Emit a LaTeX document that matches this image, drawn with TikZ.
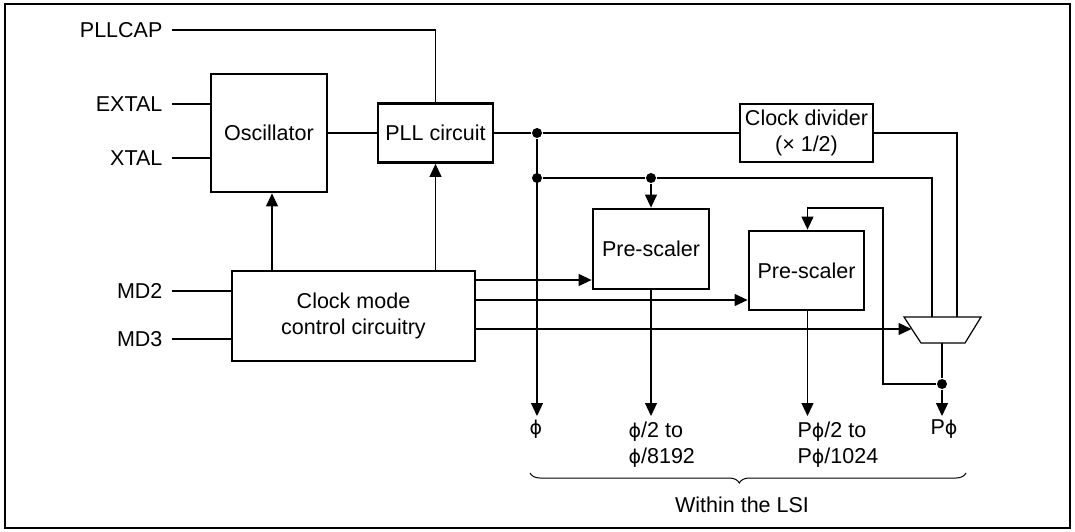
\documentclass[tikz,border=0pt]{standalone}
\usepackage{fontspec}
\setmainfont{Liberation Sans}
\newfontfamily\phifont{DejaVu Sans}
\newcommand{\ph}{{\phifont\fontsize{19}{26}\selectfont ϕ}}
\usetikzlibrary{arrows.meta}
\usetikzlibrary{calc}
\usetikzlibrary{decorations.pathreplacing}

\begin{document}
\begin{tikzpicture}[x=1pt, y=-1pt, >={Triangle[length=13pt, width=12pt]},
  line width=1.2pt,
  every node/.style={font=\fontsize{21.5}{26}\selectfont},
  blk/.style={draw, line width=2.8pt, inner sep=0pt, align=center},
  pinlbl/.style={anchor=east, inner xsep=9pt, inner ysep=0pt},
  jdot/.style={circle, fill, inner sep=0pt, minimum size=10pt},
  outlbl/.style={anchor=north west, align=left, inner sep=0pt}]

  \useasboundingbox (0,0) rectangle (1075,532);
  \draw [line width=2.6pt] (5,4) rectangle (1070,528);

  % blocks
  \node [blk, minimum width=116pt, minimum height=118pt] (osc) at (269,133) {Oscillator};
  \node [blk, minimum width=115pt, minimum height=59pt] (pll) at (435.5,133) {PLL circuit};
  \node [blk, minimum width=243pt, minimum height=90pt] (cmode) at (353.5,316)
  {Clock mode\\control circuitry};
  \node [blk, minimum width=133pt, minimum height=58pt] (div) at (806.5,133)
  {Clock divider\\(× 1/2)};
  \node [blk, minimum width=116pt, minimum height=80pt] (pre1) at (651,249) {Pre-scaler};
  \node [blk, minimum width=115pt, minimum height=79pt] (pre2) at (806.5,270.5) {Pre-scaler};

  % pins
  \node [pinlbl] (pllcap) at (172,30) {PLLCAP};
  \node [pinlbl] (extal) at (172,104) {EXTAL};
  \node [pinlbl] (xtal) at (172,158) {XTAL};
  \node [pinlbl] (md2) at (172,291) {MD2};
  \node [pinlbl] (md3) at (172,339) {MD3};

  \draw (pllcap) -| (pll.north);
  \draw (extal) -- (extal -| osc.west);
  \draw (xtal) -- (xtal -| osc.west);
  \draw (md2) -- (md2 -| cmode.west);
  \draw (md3) -- (md3 -| cmode.west);

  \draw (osc.east) -- (osc.east -| pll.west);
  \draw [->] ([xshift=3pt]cmode.north -| osc.south) -- ([xshift=3pt]osc.south);
  \draw [->] (cmode.north -| pll.south) -- (pll.south);

  % selector
  \coordinate (muxtl) at (904,317);
  \coordinate (muxtr) at (981,317);
  \coordinate (muxbr) at (965,343);
  \coordinate (muxbl) at (921,343);
  \draw (muxtl) -- (muxtr) -- (muxbr) -- (muxbl) -- cycle;
  \coordinate (muxa) at (932,317);
  \coordinate (muxb) at (957,317);
  \coordinate (muxs) at (911.5,329);
  \coordinate (muxo) at (942,343);

  % clock lines
  \node [jdot] (j1) at (537,133) {};
  \node [jdot] (j2) at (537,178) {};
  \node [jdot] (j3) at (651,178) {};
  \node [jdot] (j4) at (942,384) {};

  \coordinate (o1) at (537,416);
  \coordinate (o2) at (651,416);
  \coordinate (o3) at (807.5,416);
  \coordinate (o4) at (942,416);

  \draw (pll.east) -- (j1) -- (div.west);
  \draw [->] (j1) -- (o1);
  \draw (j2) -- (j3) -| (muxa);
  \draw [->] (j3) -- (pre1.north);
  \draw (div.east) -| (muxb);
  \draw [->] (pre1.south) -- (o2);
  \draw [->] ([xshift=1pt]pre2.south) -- (o3);
  \draw (muxo) -- (j4);
  \draw [->] (j4) -- (o4);
  \draw [->] (j4) -| (883,208) -| ([xshift=1pt]pre2.north);

  % mode lines
  \coordinate (m1) at ([yshift=36pt]cmode.east);
  \coordinate (m2) at ([yshift=16pt]cmode.east);
  \coordinate (m3) at ([yshift=-13pt]cmode.east);
  \draw [->] (m1) -- (m1 -| pre1.west);
  \draw [->] (m2) -- (m2 -| pre2.west);
  \draw [->] (m3) -- (muxs);

  % outputs
  \node (phi) at (536,429) {\ph};
  \node [outlbl] (pre1out) at (628,421) {\ph/2 to\\\ph/8192};
  \node [outlbl] (pre2out) at (797,421) {P\ph/2 to\\P\ph/1024};
  \node (pphi) at (944,429) {P\ph};

  \draw [decorate, decoration={brace, amplitude=10pt, aspect=0.52}, line width=1pt]
  (966,473) -- (530,473);
  \node (lsi) at (742,505) {Within the LSI};
\end{tikzpicture}
\end{document}
